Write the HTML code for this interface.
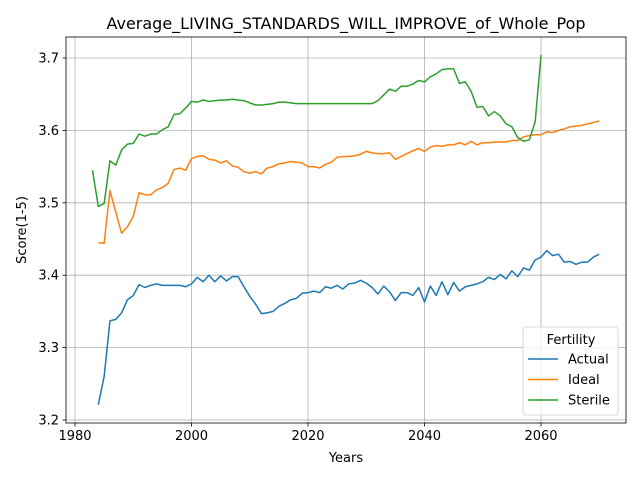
<!DOCTYPE html>
<html><head><meta charset="utf-8"><style>
body{margin:0;background:#fff;font-family:"Liberation Sans","DejaVu Sans",sans-serif}
svg text{font-family:"DejaVu Sans","Liberation Sans",sans-serif}
</style></head><body>
<svg id="c" width="640" height="480"></svg>
<script>
const actualStart=1984;
const actual=[3.221,3.26,3.337,3.339,3.348,3.366,3.372,3.387,3.383,3.386,3.388,3.386,3.386,3.386,3.386,3.384,3.388,3.397,3.391,3.400,3.391,3.399,3.392,3.398,3.398,3.384,3.371,3.360,3.347,3.348,3.350,3.357,3.361,3.366,3.368,3.375,3.376,3.378,3.376,3.384,3.382,3.386,3.381,3.388,3.389,3.393,3.389,3.383,3.374,3.385,3.377,3.365,3.376,3.376,3.372,3.383,3.363,3.385,3.372,3.391,3.373,3.390,3.378,3.384,3.386,3.388,3.391,3.397,3.394,3.401,3.395,3.406,3.398,3.410,3.407,3.421,3.425,3.434,3.427,3.429,3.418,3.419,3.415,3.418,3.418,3.425,3.429];
const idealStart=1984;
const ideal=[3.445,3.444,3.517,3.487,3.458,3.467,3.481,3.514,3.511,3.511,3.518,3.521,3.527,3.546,3.548,3.545,3.561,3.564,3.565,3.560,3.559,3.555,3.558,3.551,3.549,3.543,3.541,3.543,3.540,3.548,3.550,3.554,3.555,3.557,3.556,3.555,3.550,3.550,3.548,3.553,3.556,3.563,3.564,3.564,3.565,3.567,3.571,3.569,3.568,3.568,3.569,3.560,3.564,3.568,3.572,3.575,3.571,3.577,3.579,3.578,3.580,3.580,3.583,3.580,3.585,3.580,3.583,3.583,3.584,3.584,3.584,3.586,3.586,3.591,3.593,3.594,3.594,3.598,3.597,3.600,3.602,3.605,3.606,3.607,3.609,3.611,3.613];
const sterileStart=1983;
const sterile=[3.545,3.495,3.499,3.558,3.552,3.573,3.581,3.582,3.595,3.592,3.595,3.595,3.601,3.605,3.622,3.623,3.631,3.640,3.639,3.642,3.640,3.641,3.642,3.642,3.643,3.642,3.641,3.638,3.635,3.635,3.636,3.637,3.639,3.639,3.638,3.637,3.637,3.637,3.637,3.637,3.637,3.637,3.637,3.637,3.637,3.637,3.637,3.637,3.637,3.641,3.649,3.657,3.654,3.661,3.661,3.664,3.669,3.667,3.674,3.678,3.684,3.685,3.685,3.665,3.667,3.654,3.632,3.633,3.620,3.626,3.620,3.609,3.605,3.590,3.585,3.587,3.612,3.704];
const xTicks=[1980,2000,2020,2040,2060];
const yTicks=[3.2,3.3,3.4,3.5,3.6,3.7];
const L=66,R=626,T=37,B=423;
const X=v=>75+(v-1980)*(541-75)/80;
const Y=v=>420-(v-3.2)*(420-58)/0.5;
const NS='http://www.w3.org/2000/svg';
const svg=document.getElementById('c');
function mk(t,a,p){const e=document.createElementNS(NS,t);for(const k in a)e.setAttribute(k,a[k]);(p||svg).appendChild(e);return e;}
let e;
e=mk('text',{x:346,y:29,'text-anchor':'middle','font-size':16});e.textContent='Average_LIVING_STANDARDS_WILL_IMPROVE_of_Whole_Pop';


xTicks.forEach(v=>{
 e=mk('line',{x1:X(v),x2:X(v),y1:T,y2:B,stroke:'#b0b0b0','stroke-width':0.8});
 
 
 mk('line',{x1:X(v),x2:X(v),y1:B,y2:B+3.5,stroke:'#000','stroke-width':0.8});
 e=mk('text',{x:X(v),y:B+17,'text-anchor':'middle','font-size':13});e.textContent=v;
 
 
});
yTicks.forEach(v=>{
 e=mk('line',{x1:L,x2:R,y1:Y(v),y2:Y(v),stroke:'#b0b0b0','stroke-width':0.8});
 
 
 mk('line',{x1:L-3.5,x2:L,y1:Y(v),y2:Y(v),stroke:'#000','stroke-width':0.8});
 e=mk('text',{x:L-7,y:Y(v)+4.5,'text-anchor':'end','font-size':13});e.textContent=v.toFixed(1);
 
 
});
function series(d,s,c,n){
 const pts=d.map((v,i)=>X(s+i).toFixed(2)+','+Y(v).toFixed(2)).join(' ');
 const p=mk('polyline',{points:pts,fill:'none',stroke:c,'stroke-width':1.5,'stroke-linejoin':'round'});
 
 
}
series(actual,actualStart,'#1f77b4','actual-line');
series(ideal,idealStart,'#ff7f0e','ideal-line');
series(sterile,sterileStart,'#2ca02c','sterile-line');
e=mk('rect',{x:L,y:T,width:R-L,height:B-T,fill:'none',stroke:'#000','stroke-width':0.8});


e=mk('text',{x:346,y:462,'text-anchor':'middle','font-size':13});e.textContent='Years';


e=mk('text',{x:0,y:0,'text-anchor':'middle','font-size':13,transform:'translate(26,230) rotate(-90)'});e.textContent='Score(1-5)';


const g=mk('g',{});


mk('rect',{x:523,y:327,width:95,height:88,rx:3,fill:'#fff','fill-opacity':0.8,stroke:'#ccc','stroke-width':0.8},g);
e=mk('text',{x:571,y:344,'text-anchor':'middle','font-size':13},g);e.textContent='Fertility';
[['Actual','#1f77b4'],['Ideal','#ff7f0e'],['Sterile','#2ca02c']].forEach((it,i)=>{
 const y=359+i*20.5;
 const ln=mk('line',{x1:528,x2:558,y1:y,y2:y,stroke:it[1],'stroke-width':1.5},g);
 
 
 const t=mk('text',{x:568,y:y+4.5,'font-size':13},g);t.textContent=it[0];
 
 
});
</script>
</body></html>
